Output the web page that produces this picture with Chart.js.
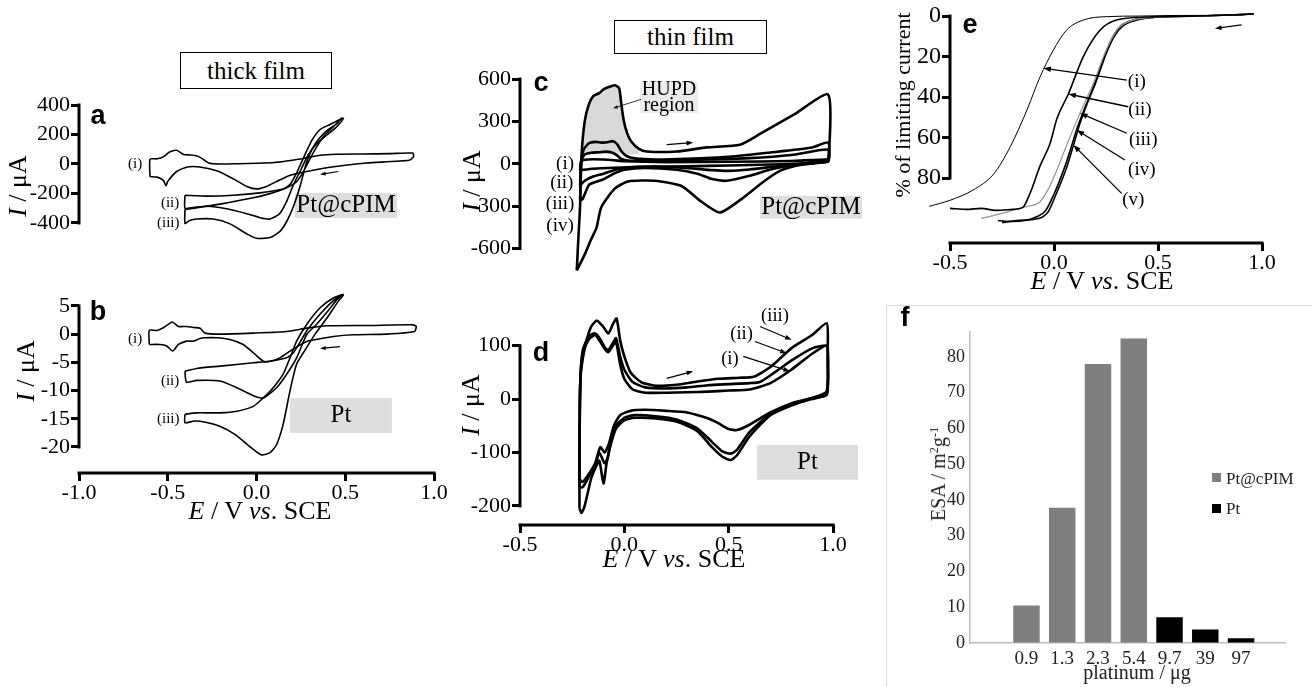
<!DOCTYPE html>
<html lang="en">
<head>
<meta charset="UTF-8">
<title>Pt@cPIM voltammetry</title>
<script src="https://cdn.jsdelivr.net/npm/chart.js"></script>
<style>
  body { margin: 0; width: 1312px; height: 687px; position: relative; overflow: hidden; background: #fff;
         font-family: "Liberation Serif", serif; color: #000; }
  canvas { position: absolute; }
  .lbl { position: absolute; white-space: nowrap; line-height: 1; }
  .ctr { transform: translate(-50%, -50%); }
  .rot { transform: translate(-50%, -50%) rotate(-90deg); }
  .vmid { transform: translateY(-50%); }
  .letter { font-family: "Liberation Sans", sans-serif; font-weight: bold; font-size: 27px; }
  .film { position: absolute; border: 1px solid #000; box-sizing: border-box; font-size: 25px;
          display: flex; align-items: center; justify-content: center; background: #fff; }
  sup { font-size: 0.62em; vertical-align: 0.55em; }
  .frame { position: absolute; left: 886px; top: 305px; width: 440px; height: 400px; border: 1px solid #dcdcdc; }
  .sw { position: absolute; width: 9px; height: 9px; }
</style>
</head>
<body>
<div class="frame"></div>
<div class="film" style="left:180px;top:52px;width:152px;height:37px">thick film</div>
<div class="film" style="left:614px;top:20px;width:153px;height:34px">thin film</div>

<canvas id="chartA"></canvas>
<canvas id="chartB"></canvas>
<canvas id="chartC"></canvas>
<canvas id="chartD"></canvas>
<canvas id="chartE"></canvas>
<canvas id="chartF"></canvas>

<div class="lbl letter ctr" style="left:98px;top:115px">a</div>
<div class="lbl letter ctr" style="left:98px;top:311px">b</div>
<div class="lbl letter ctr" style="left:541px;top:82px">c</div>
<div class="lbl letter ctr" style="left:541px;top:352px">d</div>
<div class="lbl letter ctr" style="left:970px;top:24px">e</div>
<div class="lbl letter ctr" style="left:905px;top:317px">f</div>

<div class="lbl rot" style="left:18px;top:186px;font-size:26px"><i>I</i> / μA</div>
<div class="lbl rot" style="left:26px;top:371px;font-size:26px"><i>I</i> / μA</div>
<div class="lbl ctr" style="left:260px;top:511px;font-size:26px"><i>E</i> / V <i>vs</i>. SCE</div>
<div class="lbl rot" style="left:472px;top:181px;font-size:26px"><i>I</i> / μA</div>
<div class="lbl rot" style="left:471px;top:405px;font-size:26px"><i>I</i> / μA</div>
<div class="lbl ctr" style="left:674px;top:559px;font-size:26px"><i>E</i> / V <i>vs</i>. SCE</div>
<div class="lbl rot" style="left:903px;top:105px;font-size:22px">% of limiting current</div>
<div class="lbl ctr" style="left:1102px;top:281px;font-size:26px"><i>E</i> / V <i>vs</i>. SCE</div>
<div class="lbl rot" style="left:938px;top:474px;font-size:20px;color:#222">ESA / m<sup>2</sup>g<sup>-1</sup></div>
<div class="lbl ctr" style="left:1137px;top:672px;font-size:20px;color:#222">platinum / μg</div>

<div class="sw" style="left:1212px;top:473px;background:#7f7f7f"></div>
<div class="lbl vmid" style="left:1226px;top:478px;font-size:17px;color:#222">Pt@cPIM</div>
<div class="sw" style="left:1212px;top:504px;background:#000"></div>
<div class="lbl vmid" style="left:1226px;top:508px;font-size:17px;color:#222">Pt</div>

<script>
// ---------- data: panel a (thick film, Pt@cPIM), E / V and I / uA ----------
const a1E = [-0.60,-0.60,-0.56,-0.525,-0.49,-0.45,-0.41,-0.375,-0.34,-0.31,-0.27,-0.20,-0.10,0.00,0.10,0.20,0.28,0.35,0.45,0.60,0.75,0.88,0.885,0.86,0.62,0.49,0.34,0.19,0.115,0.057,0.00,-0.055,-0.13,-0.22,-0.32,-0.39,-0.45,-0.50,-0.51,-0.525,-0.56,-0.60];
const a1I = [-86,32,35,48,81,93,64,61,56,40,7,0,2,5,10,25,42,58,66,68,70,74,50,25,7,-10,-37,-76,-118,-152,-169,-152,-101,-47,-20,-20,-51,-118,-148,-111,-89,-86];
const a2E = [-0.403,-0.28,-0.13,0.02,0.15,0.19,0.226,0.264,0.311,0.358,0.414,0.47,0.49,0.45,0.40,0.34,0.29,0.25,0.21,0.17,0.13,0.076,0.02,-0.055,-0.168,-0.28,-0.356,-0.403,-0.403];
const a2I = [-212,-218,-212,-196,-170,-137,-61,40,158,234,268,302,310,250,200,140,60,-40,-135,-253,-337,-373,-364,-337,-304,-287,-295,-300,-212];
const a3E = [-0.403,-0.30,-0.206,-0.018,0.076,0.17,0.226,0.264,0.30,0.339,0.377,0.433,0.48,0.455,0.40,0.358,0.32,0.283,0.245,0.208,0.17,0.132,0.076,0.0,-0.055,-0.149,-0.243,-0.337,-0.38,-0.403,-0.403];
const a3I = [-309,-290,-272,-229,-201,-162,-120,-52,32,116,185,253,312,275,230,180,116,15,-153,-288,-390,-457,-499,-504,-474,-406,-373,-373,-385,-403,-309];

// ---------- panel b (thick film, Pt) ----------
const b1E = [-0.604,-0.604,-0.562,-0.525,-0.487,-0.472,-0.44,-0.393,-0.356,-0.318,-0.29,-0.206,-0.018,0.17,0.283,0.395,0.64,0.883,0.90,0.89,0.733,0.545,0.433,0.358,0.283,0.208,0.132,0.076,0.038,-0.018,-0.075,-0.15,-0.225,-0.29,-0.318,-0.356,-0.393,-0.44,-0.472,-0.506,-0.543,-0.604];
const b1I = [-1.83,0.65,0.65,1.12,1.95,2.13,1.36,1.36,1.18,1.06,0.18,0.0,0.18,0.47,1.06,1.48,1.54,1.65,1.36,0.47,0.0,-0.12,-0.41,-0.83,-1.3,-2.6,-4.2,-4.8,-4.8,-3.3,-1.83,-0.95,-0.65,-0.65,-0.77,-1.24,-1.24,-1.83,-3.0,-2.1,-1.83,-1.83];
const b2E = [-0.403,-0.337,-0.206,-0.018,0.076,0.17,0.208,0.23,0.255,0.29,0.36,0.435,0.489,0.455,0.40,0.34,0.283,0.226,0.17,0.113,0.038,-0.018,-0.11,-0.206,-0.337,-0.395,-0.403];
const b2I = [-6.56,-6.08,-5.67,-5.08,-4.79,-4.2,-3.3,-2.2,-0.9,0.9,3.6,6.0,7.0,6.2,4.0,1.8,-0.06,-4.2,-7.1,-9.5,-11.3,-10.9,-9.5,-8.3,-8.2,-8.5,-6.56];
const b3E = [-0.403,-0.337,-0.206,-0.11,-0.018,0.038,0.094,0.15,0.189,0.226,0.283,0.358,0.433,0.489,0.46,0.40,0.33,0.27,0.226,0.189,0.15,0.113,0.076,0.029,-0.027,-0.12,-0.21,-0.287,-0.35,-0.403,-0.403];
const b3I = [-14.2,-13.95,-13.95,-13.66,-12.8,-11.3,-9.5,-7.1,-4.2,-1.24,1.72,4.67,6.4,7.0,5.8,3.0,0.0,-3.0,-5.3,-10.0,-16.0,-19.6,-21.0,-21.4,-20.2,-17.8,-16.3,-15.6,-15.4,-15.7,-14.2];

// ---------- panel c (thin film, Pt@cPIM) ----------
const c1E = [-0.212,-0.207,-0.19,-0.15,-0.1,-0.05,0.0,0.2,0.5,0.8,0.977,0.977,0.85,0.7,0.5,0.3,0.1,-0.05,-0.15,-0.212];
const c1I = [-45,15,28,32,30,25,18,12,14,20,30,15,2,-5,-12,-18,-22,-28,-35,-45];
const c2E = [-0.212,-0.207,-0.19,-0.16,-0.12,-0.09,-0.06,-0.035,-0.015,0.03,0.2,0.4,0.6,0.8,0.977,0.977,0.9,0.75,0.6,0.5,0.42,0.3,0.15,0.02,-0.05,-0.1,-0.15,-0.19,-0.212];
const c2I = [-155,20,65,78,82,86,80,60,35,22,22,30,40,62,100,20,3,-15,-40,-50,-45,-30,-20,-25,-45,-70,-90,-120,-155];
const c3E = [-0.212,-0.207,-0.195,-0.17,-0.14,-0.11,-0.08,-0.055,-0.035,-0.015,0.01,0.05,0.15,0.3,0.5,0.7,0.9,0.977,0.977,0.9,0.8,0.7,0.6,0.49,0.42,0.35,0.25,0.1,0.0,-0.05,-0.1,-0.14,-0.17,-0.2,-0.212];
const c3I = [-260,0,100,145,155,150,152,160,140,90,55,38,30,35,50,80,115,150,35,12,-10,-40,-85,-120,-108,-70,-42,-30,-42,-70,-110,-130,-150,-250,-260];
const c4E = [-0.228,-0.22,-0.212,-0.205,-0.19,-0.17,-0.149,-0.12,-0.10,-0.07,-0.045,-0.025,-0.015,-0.003,0.015,0.035,0.07,0.107,0.25,0.395,0.554,0.65,0.81,0.977,0.977,0.945,0.849,0.753,0.673,0.561,0.458,0.37,0.274,0.146,0.0175,-0.046,-0.11,-0.134,-0.158,-0.19,-0.228];
const c4I = [-755,-520,-300,60,300,420,479,500,527,545,556,535,430,307,210,154,105,87,87,116,135,211,346,489,30,11,-7,-45,-120,-250,-345,-269,-157,-120,-125,-176,-306,-456,-531,-643,-755];

// ---------- panel d (thin film, Pt) ----------
const d1E = [-0.215,-0.212,-0.20,-0.17,-0.14,-0.12,-0.09,-0.077,-0.055,-0.04,-0.02,0.0,0.04,0.1,0.2,0.3,0.4,0.5,0.6,0.7,0.8,0.9,0.97,0.975,0.97,0.9,0.8,0.7,0.6,0.54,0.5,0.45,0.4,0.3,0.2,0.1,0.03,-0.02,-0.05,-0.075,-0.095,-0.115,-0.14,-0.17,-0.2,-0.215];
const d1I = [-150,20,85,112,120,110,92,88,100,108,65,38,18,12,12,13,14,16,18,30,55,85,100,60,8,2,-8,-25,-48,-58,-56,-45,-36,-25,-22,-20,-22,-30,-50,-85,-100,-90,-120,-140,-155,-150];
const d2E = [-0.215,-0.212,-0.20,-0.17,-0.14,-0.12,-0.09,-0.077,-0.055,-0.04,-0.02,0.0,0.04,0.1,0.2,0.3,0.4,0.5,0.6,0.65,0.72,0.8,0.9,0.97,0.975,0.97,0.9,0.8,0.7,0.6,0.54,0.51,0.47,0.42,0.35,0.25,0.15,0.05,0.0,-0.04,-0.065,-0.08,-0.095,-0.12,-0.14,-0.17,-0.2,-0.215];
const d2I = [-165,20,90,118,123,115,95,92,105,114,80,55,32,22,20,22,26,28,30,32,50,72,95,100,80,10,0,-10,-28,-62,-95,-102,-98,-80,-55,-38,-32,-30,-35,-50,-80,-110,-120,-100,-125,-145,-165,-165];
const d3E = [-0.215,-0.215,-0.21,-0.19,-0.16,-0.132,-0.10,-0.077,-0.055,-0.037,-0.02,0.0,0.03,0.08,0.15,0.25,0.35,0.45,0.55,0.62,0.70,0.80,0.90,0.97,0.975,0.97,0.90,0.80,0.70,0.60,0.54,0.51,0.47,0.42,0.35,0.25,0.15,0.05,0.0,-0.04,-0.065,-0.085,-0.10,-0.12,-0.14,-0.16,-0.19,-0.205,-0.215];
const d3I = [-205,-100,40,95,135,147,135,123,140,151,110,80,50,32,25,27,33,38,40,42,60,95,120,142,100,15,2,-12,-30,-70,-105,-114,-108,-90,-60,-42,-36,-35,-40,-55,-85,-120,-158,-115,-130,-150,-200,-213,-205];

// ---------- panel e (RDE, % of limiting current) ----------
const e1E = [-0.60,-0.50,-0.39,-0.29,-0.21,-0.13,-0.067,-0.003,0.06,0.14,0.25,0.41,0.60,0.90,0.96];
const e1P = [94,91,86,78,64.5,46.4,30,16.8,7,2,0.3,0,-0.3,-0.5,-1.3];
const e2E = [-0.50,-0.42,-0.35,-0.28,-0.20,-0.15,-0.115,-0.067,-0.019,0.013,0.069,0.141,0.221,0.30,0.45,0.70,0.96];
const e2P = [95,95.5,95,96,95.5,94.5,87.5,74,63,51,38.5,20,7,2,0.5,0,-1];
const e3E = [-0.35,-0.27,-0.20,-0.13,-0.07,-0.03,0.01,0.06,0.10,0.125,0.16,0.19,0.25,0.31,0.38,0.50,0.70,0.96];
const e3P = [100,98,96,94,92,86,77,64,54,48,40,33,17,6,2,0.5,0,-1];
const e4E = [-0.27,-0.20,-0.14,-0.08,-0.04,0.00,0.05,0.085,0.109,0.15,0.19,0.253,0.29,0.32,0.38,0.50,0.70,0.96];
const e4P = [101,101.5,101,99,96,88,75,64,56,45,35,17,9,5,2,0.5,0,-1];
const e5E = [-0.25,-0.18,-0.10,-0.06,-0.03,0.01,0.06,0.093,0.125,0.16,0.20,0.253,0.29,0.33,0.40,0.50,0.70,0.96];
const e5P = [102,101,100.5,99.5,97,88,75,64,53,43,33,18,10,5,2,0.5,0,-1];

// ---------- panel f (ESA bars) ----------
const fLabels = ['0.9', '1.3', '2.3', '5.4', '9.7', '39', '97'];
const fPtCPIM = [10.5, 37.8, 78, 85.1];
const fPt = [7.2, 3.8, 1.3];

// ---------- tick values ----------
const abETicks = [-1, -0.5, 0, 0.5, 1];
const aITicks = [-400, -200, 0, 200, 400];
const bITicks = [-20, -15, -10, -5, 0, 5];
const cdETicks = [-0.5, 0, 0.5, 1];
const cITicks = [-600, -300, 0, 300, 600];
const dITicks = [-200, -100, 0, 100];
const ePTicks = [0, 20, 40, 60, 80];
const fYTicks = [0, 10, 20, 30, 40, 50, 60, 70, 80];

const SERIF = 'Liberation Serif';
const fmt1 = v => v.toFixed(1);
const fmt0 = v => String(v);

// axis line drawn only between the first and last tick, like the original
const spines = {
  id: 'spines',
  afterDatasetsDraw(chart, args, opts) {
    const ctx = chart.ctx, area = chart.chartArea;
    ctx.save();
    ctx.strokeStyle = '#000';
    ctx.lineWidth = 3;
    for (const id of opts.axes || []) {
      const s = chart.scales[id];
      const vals = s.ticks.map(t => t.value);
      const p0 = s.getPixelForValue(Math.min(...vals));
      const p1 = s.getPixelForValue(Math.max(...vals));
      ctx.beginPath();
      if (s.isHorizontal()) {
        ctx.moveTo(Math.min(p0, p1) - 1.5, area.bottom);
        ctx.lineTo(Math.max(p0, p1) + 1.5, area.bottom);
      } else {
        ctx.moveTo(area.left, Math.max(p0, p1) + 1.5);
        ctx.lineTo(area.left, Math.min(p0, p1) - 1.5);
      }
      ctx.stroke();
    }
    ctx.restore();
  }
};

// curve labels, arrows and grey tags, placed in data units
const notes = {
  id: 'notes',
  beforeDatasetsDraw(chart, args, opts) {
    const { ctx, scales: { x, y } } = chart;
    for (const t of opts.tags || []) {
      const x0 = x.getPixelForValue(t.x0), x1 = x.getPixelForValue(t.x1);
      const y0 = y.getPixelForValue(t.y0), y1 = y.getPixelForValue(t.y1);
      ctx.fillStyle = t.bg || '#dedede';
      ctx.fillRect(Math.min(x0, x1), Math.min(y0, y1), Math.abs(x1 - x0), Math.abs(y1 - y0));
    }
  },
  afterDatasetsDraw(chart, args, opts) {
    const { ctx, scales: { x, y } } = chart;
    ctx.save();
    ctx.fillStyle = '#000';
    ctx.textBaseline = 'middle';
    for (const t of opts.tags || []) {
      const cx = (x.getPixelForValue(t.x0) + x.getPixelForValue(t.x1)) / 2;
      const y0 = y.getPixelForValue(t.y0), y1 = y.getPixelForValue(t.y1);
      ctx.font = t.size + 'px "' + SERIF + '"';
      ctx.textAlign = 'center';
      const n = t.lines.length, h = (y1 - y0) / n;
      t.lines.forEach((s, i) => ctx.fillText(s, cx, y0 + h * (i + 0.5)));
    }
    for (const l of opts.labels || []) {
      ctx.font = l.size + 'px "' + SERIF + '"';
      ctx.textAlign = 'center';
      ctx.fillText(l.t, x.getPixelForValue(l.x), y.getPixelForValue(l.y));
    }
    for (const a of opts.arrows || []) {
      const x1 = x.getPixelForValue(a.x1), y1 = y.getPixelForValue(a.y1);
      const x2 = x.getPixelForValue(a.x2), y2 = y.getPixelForValue(a.y2);
      const ang = Math.atan2(y2 - y1, x2 - x1), h = a.head || 7;
      ctx.strokeStyle = '#000';
      ctx.lineWidth = a.w || 1.2;
      ctx.beginPath();
      ctx.moveTo(x1, y1);
      ctx.lineTo(x2 - Math.cos(ang) * h * 0.6, y2 - Math.sin(ang) * h * 0.6);
      ctx.stroke();
      ctx.beginPath();
      ctx.moveTo(x2, y2);
      ctx.lineTo(x2 - h * Math.cos(ang - 0.35), y2 - h * Math.sin(ang - 0.35));
      ctx.lineTo(x2 - h * Math.cos(ang + 0.35), y2 - h * Math.sin(ang + 0.35));
      ctx.closePath();
      ctx.fill();
    }
    ctx.restore();
  }
};

function curve(E, I, w, color, extra) {
  return Object.assign({
    data: E.map((x, i) => ({ x, y: I[i] })),
    borderColor: color || '#000', borderWidth: w, pointRadius: 0, tension: 0.2, fill: false
  }, extra || {});
}

function axis(c, show, fit) {
  return {
    type: 'linear', display: show, min: c.min, max: c.max, reverse: !!c.reverse,
    afterBuildTicks: s => { s.ticks = c.ticks.map(v => ({ value: v })); },
    afterFit: fit,
    ticks: { autoSkip: false, maxRotation: 0, padding: 1, color: '#000',
             font: { family: SERIF, size: c.size || 22, lineHeight: 1 }, callback: c.fmt },
    grid: { drawOnChartArea: false, drawTicks: true, tickLength: 8, tickWidth: 3, lineWidth: 3,
            color: '#000', tickColor: '#000' },
    border: { display: false }
  };
}

// area = chart area in page pixels
function cvChart(id, area, xc, yc, datasets, noteCfg, hideX) {
  const pad = { l: 80, t: 20, r: 45, b: 45 };
  const cv = document.getElementById(id);
  cv.width = Math.round(area.r - area.l + pad.l + pad.r);
  cv.height = Math.round(area.b - area.t + pad.t + pad.b);
  cv.style.left = (area.l - pad.l) + 'px';
  cv.style.top = (area.t - pad.t) + 'px';
  return new Chart(cv, {
    type: 'line',
    data: { datasets },
    options: {
      responsive: false, animation: false,
      layout: { padding: { top: pad.t, right: pad.r, bottom: hideX ? pad.b : 0, left: 0 } },
      plugins: {
        legend: { display: false }, tooltip: { enabled: false },
        spines: { axes: hideX ? ['y'] : ['x', 'y'] },
        notes: noteCfg
      },
      scales: {
        x: axis(xc, !hideX, s => { s.height = pad.b; }),
        y: axis(yc, true, s => { s.width = pad.l; })
      }
    },
    plugins: [spines, notes]
  });
}

// ---- a ----
cvChart('chartA', { l: 79, r: 434, t: 105, b: 287 },
  { min: -1, max: 1, ticks: abETicks, fmt: fmt1 },
  { min: -529, max: 400, ticks: aITicks, fmt: fmt0 },
  [curve(a1E, a1I, 1.6), curve(a2E, a2I, 1.6), curve(a3E, a3I, 1.6)],
  {
    tags: [{ x0: 0.217, x1: 0.792, y0: -197, y1: -366, lines: ['Pt@cPIM'], size: 25 }],
    labels: [{ t: '(i)', x: -0.684, y: 0, size: 15 }, { t: '(ii)', x: -0.487, y: -262, size: 15 },
             { t: '(iii)', x: -0.497, y: -400, size: 15 }],
    arrows: [{ x1: 0.461, y1: -51, x2: 0.358, y2: -71, w: 1.2, head: 6 }]
  }, true);

// ---- b ----
cvChart('chartB', { l: 79, r: 434, t: 288.8, b: 472.7 },
  { min: -1, max: 1, ticks: abETicks, fmt: fmt1 },
  { min: -24.61, max: 8, ticks: bITicks, fmt: fmt0 },
  [curve(b1E, b1I, 1.6), curve(b2E, b2I, 1.6), curve(b3E, b3I, 1.6)],
  {
    tags: [{ x0: 0.189, x1: 0.763, y0: -11.3, y1: -17.5, lines: ['Pt'], size: 25 }],
    labels: [{ t: '(i)', x: -0.684, y: -0.9, size: 15 }, { t: '(ii)', x: -0.487, y: -8.3, size: 15 },
             { t: '(iii)', x: -0.497, y: -15.1, size: 15 }],
    arrows: [{ x1: 0.47, y1: -2.2, x2: 0.358, y2: -2.55, w: 1.2, head: 6 }]
  }, false);

// ---- c ----
const hupd = c4E.map((e, i) => i).filter(i => i < c4E.indexOf(Math.max(...c4E)) && c4E[i] >= -0.205 && c4E[i] <= 0.07);
cvChart('chartC', { l: 520, r: 833, t: 79, b: 319.4 },
  { min: -0.5, max: 1, ticks: cdETicks, fmt: fmt1 },
  { min: -780, max: 600, ticks: cITicks, fmt: fmt0 },
  [
    { data: hupd.map(i => ({ x: c4E[i], y: c4I[i] })), fill: { value: 68 }, backgroundColor: '#d9d9d9',
      borderWidth: 0, pointRadius: 0, tension: 0.2, order: 5 },
    curve(c1E, c1I, 2.6), curve(c2E, c2I, 2.6), curve(c3E, c3I, 2.6), curve(c4E, c4I, 2.6)
  ],
  {
    tags: [{ x0: 0.65, x1: 1.139, y0: -227, y1: -388, lines: ['Pt@cPIM'], size: 25 },
           { x0: 0.075, x1: 0.353, y0: 577, y1: 358, lines: ['HUPD', 'region'], size: 20, bg: '#ebebeb' }],
    labels: [{ t: '(i)', x: -0.284, y: 1, size: 19 }, { t: '(ii)', x: -0.30, y: -133, size: 19 },
             { t: '(iii)', x: -0.308, y: -286, size: 19 }, { t: '(iv)', x: -0.308, y: -439, size: 19 }],
    arrows: [{ x1: 0.203, y1: 135, x2: 0.33, y2: 150, w: 1.3, head: 7 },
             { x1: 0.08, y1: 456, x2: -0.054, y2: 393, w: 0.8, head: 5 }]
  }, true);

// ---- d ----
cvChart('chartD', { l: 520, r: 833, t: 311.3, b: 525 },
  { min: -0.5, max: 1, ticks: cdETicks, fmt: fmt1 },
  { min: -235.7, max: 165, ticks: dITicks, fmt: fmt0 },
  [curve(d1E, d1I, 2.6), curve(d2E, d2I, 2.6), curve(d3E, d3I, 2.6)],
  {
    tags: [{ x0: 0.636, x1: 1.12, y0: -85.7, y1: -151, lines: ['Pt'], size: 25 }],
    labels: [{ t: '(iii)', x: 0.722, y: 155, size: 18.5 }, { t: '(ii)', x: 0.562, y: 121, size: 18.5 },
             { t: '(i)', x: 0.506, y: 74, size: 18.5 }],
    arrows: [{ x1: 0.65, y1: 136, x2: 0.802, y2: 111, w: 1.2, head: 7 },
             { x1: 0.626, y1: 108, x2: 0.778, y2: 86, w: 1.2, head: 7 },
             { x1: 0.57, y1: 80, x2: 0.794, y2: 52, w: 1.2, head: 7 },
             { x1: 0.203, y1: 39, x2: 0.33, y2: 52, w: 1.3, head: 7 }]
  }, false);

// ---- e ----
const eLine = (E, P, w, color) => curve(E, P, w, color, { clip: false, cubicInterpolationMode: 'monotone' });
cvChart('chartE', { l: 950, r: 1262, t: 12, b: 243 },
  { min: -0.5, max: 1, ticks: cdETicks, fmt: fmt1 },
  { min: -2, max: 112.1, reverse: true, ticks: ePTicks, fmt: fmt0, size: 24 },
  [eLine(e1E, e1P, 1), eLine(e2E, e2P, 1.6), eLine(e3E, e3P, 1.3, '#9a9a9a'), eLine(e4E, e4P, 1.6), eLine(e5E, e5P, 1.6)],
  {
    labels: [{ t: '(i)', x: 0.398, y: 32.4, size: 19 }, { t: '(ii)', x: 0.413, y: 46.4, size: 19 },
             { t: '(iii)', x: 0.429, y: 61.2, size: 19 }, { t: '(iv)', x: 0.422, y: 76, size: 19 },
             { t: '(v)', x: 0.381, y: 90.9, size: 19 }],
    arrows: [{ x1: 0.35, y1: 31.6, x2: -0.051, y2: 25.8, w: 1.3, head: 8 },
             { x1: 0.357, y1: 44.8, x2: 0.069, y2: 38.5, w: 1.3, head: 8 },
             { x1: 0.35, y1: 57.9, x2: 0.125, y2: 48, w: 1.3, head: 8 },
             { x1: 0.341, y1: 71.1, x2: 0.109, y2: 56.3, w: 1.3, head: 8 },
             { x1: 0.325, y1: 87.6, x2: 0.093, y2: 63.7, w: 1.3, head: 8 },
             { x1: 0.902, y1: 4.4, x2: 0.774, y2: 6.1, w: 1.2, head: 7 }]
  }, false);

// ---- f ----
(function () {
  const area = { l: 970, r: 1285, t: 328, b: 643 };
  const pad = { l: 60, t: 12, r: 40, b: 36 };
  const cv = document.getElementById('chartF');
  cv.width = area.r - area.l + pad.l + pad.r;
  cv.height = area.b - area.t + pad.t + pad.b;
  cv.style.left = (area.l - pad.l) + 'px';
  cv.style.top = (area.t - pad.t) + 'px';
  const gray = '#bdbdbd';
  const flatGrid = { display: true, drawOnChartArea: false, drawTicks: false, color: gray };
  new Chart(cv, {
    type: 'bar',
    data: {
      datasets: [
        { label: 'Pt@cPIM', data: fPtCPIM.map((v, i) => ({ x: i, y: v })), backgroundColor: '#7f7f7f', grouped: false },
        { label: 'Pt', data: fPt.map((v, i) => ({ x: i + fPtCPIM.length, y: v })), backgroundColor: '#000', grouped: false }
      ]
    },
    options: {
      responsive: false, animation: false,
      barPercentage: 0.74, categoryPercentage: 1,
      layout: { padding: { top: pad.t, right: pad.r, bottom: 0, left: 0 } },
      plugins: { legend: { display: false }, tooltip: { enabled: false } },
      scales: {
        x: {
          type: 'linear', min: -0.95, max: 6.6,
          afterBuildTicks: s => { s.ticks = fLabels.map((l, i) => ({ value: i })); },
          afterFit: s => { s.height = pad.b; },
          ticks: { autoSkip: false, maxRotation: 0, padding: 5, color: '#222', font: { family: SERIF, size: 19 },
                   callback: v => fLabels[v] },
          grid: flatGrid,
          border: { display: true, color: gray, width: 1.5 }
        },
        y: {
          min: 0, max: 87,
          afterBuildTicks: s => { s.ticks = fYTicks.map(v => ({ value: v })); },
          afterFit: s => { s.width = pad.l; },
          ticks: { autoSkip: false, padding: 5, color: '#222', font: { family: SERIF, size: 18 } },
          grid: flatGrid,
          border: { display: true, color: gray, width: 1.5 }
        }
      }
    }
  });
})();
</script>
</body>
</html>
